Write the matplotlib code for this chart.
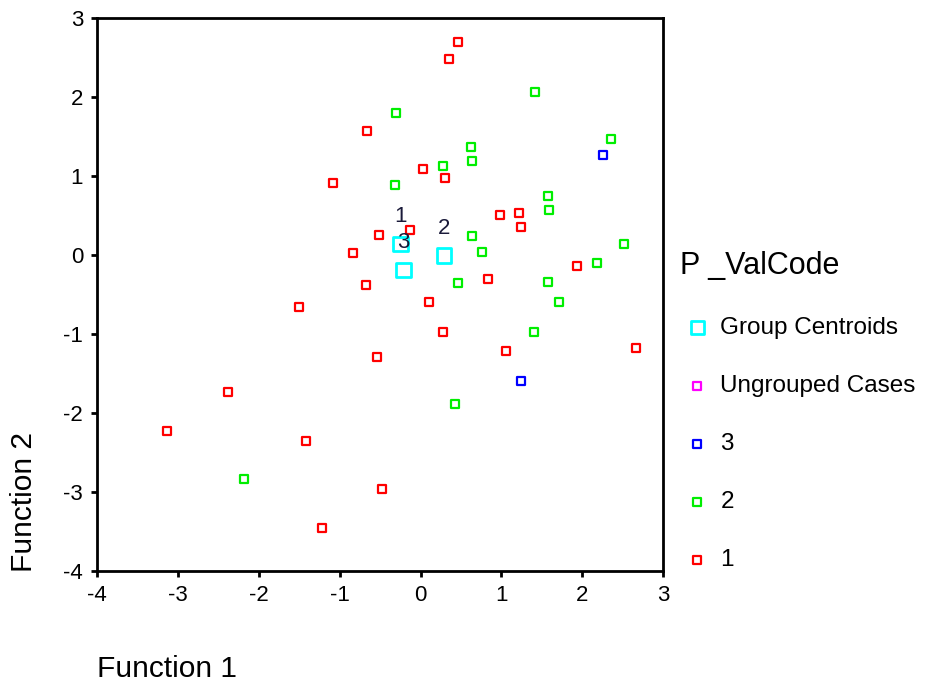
import matplotlib
matplotlib.use("Agg")
import matplotlib.pyplot as plt

plt.rcParams['font.family'] = ['Liberation Sans', 'DejaVu Sans']
plt.rcParams['axes.unicode_minus'] = False

# discriminant scores (Function 1, Function 2) per predicted group
g1_x = [-0.66, -1.08, -0.51, -0.84, -0.67, 0.46, 0.35, 0.03, 0.30, 0.98, 1.22, 1.24, -0.13,
        1.94, 0.83, -1.50, -0.54, -2.38, -3.13, -1.42, -0.48, -1.22, 0.11, 0.28, 1.06, 2.67]
g1_y = [1.57, 0.91, 0.25, 0.02, -0.38, 2.69, 2.48, 1.09, 0.97, 0.50, 0.53, 0.35, 0.32,
        -0.14, -0.31, -0.66, -1.29, -1.74, -2.23, -2.35, -2.96, -3.45, -0.59, -0.97, -1.22, -1.18]
g2_x = [1.41, -0.30, 2.36, 0.62, 0.64, 0.28, -0.31, 1.58, 1.59, 0.64, 0.76, 2.52, 2.18,
        0.46, 1.58, -2.18, 1.71, 1.40, 0.42]
g2_y = [2.06, 1.80, 1.47, 1.37, 1.19, 1.12, 0.88, 0.74, 0.57, 0.24, 0.04, 0.14, -0.10,
        -0.36, -0.34, -2.83, -0.59, -0.97, -1.88]
g3_x = [2.26, 1.24]
g3_y = [1.26, -1.60]
cent_x = [-0.25, 0.29, -0.21]
cent_y = [0.14, -0.01, -0.19]
cent_labels = ["1", "2", "3"]

fig = plt.figure(figsize=(9.42, 6.88), dpi=100)
ax = fig.add_axes([0.103, 0.170, 0.601, 0.804])

mk = dict(marker='s', s=36, facecolors='white', linewidths=1.6)
p1 = ax.scatter(g1_x, g1_y, edgecolors='#ff0000', label='1', **mk)
p2 = ax.scatter(g2_x, g2_y, edgecolors='#00ee00', label='2', **mk)
p3 = ax.scatter(g3_x, g3_y, edgecolors='#0000ff', label='3', **mk)
pu = ax.scatter([], [], edgecolors='#ff00ff', label='Ungrouped Cases', **mk)
pc = ax.scatter(cent_x, cent_y, marker='s', s=110, facecolors='none',
                edgecolors='#00ffff', linewidths=2, label='Group Centroids')
for cx, cy, lab in zip(cent_x, cent_y, cent_labels):
    ax.annotate(lab, (cx, cy), xytext=(0, 12), textcoords='offset points',
                ha='center', va='bottom', fontsize=16, color='#1a1a3a')

ax.set_xlim(-4, 3)
ax.set_ylim(-4, 3)
ax.set_xticks(range(-4, 4))
ax.set_yticks(range(-4, 4))
for sp in ax.spines.values():
    sp.set_linewidth(2)
ax.tick_params(direction='out', length=4, width=2, labelsize=16, pad=6)

fig.text(0.103, 0.028, "Function 1", fontsize=21.5, ha='left', va='center')
fig.text(0.025, 0.168, "Function 2", fontsize=21.5, rotation=90, ha='center', va='bottom')

leg = fig.legend(handles=[pc, pu, p3, p2, p1], loc='upper left',
                 bbox_to_anchor=(0.699, 0.667), frameon=False, fontsize=17.5,
                 title='P _ValCode', title_fontsize=22, alignment='left',
                 labelspacing=1.48, handlelength=1.4, handletextpad=0.25,
                 markerscale=0.9)

fig.savefig("out.png", dpi=100)
